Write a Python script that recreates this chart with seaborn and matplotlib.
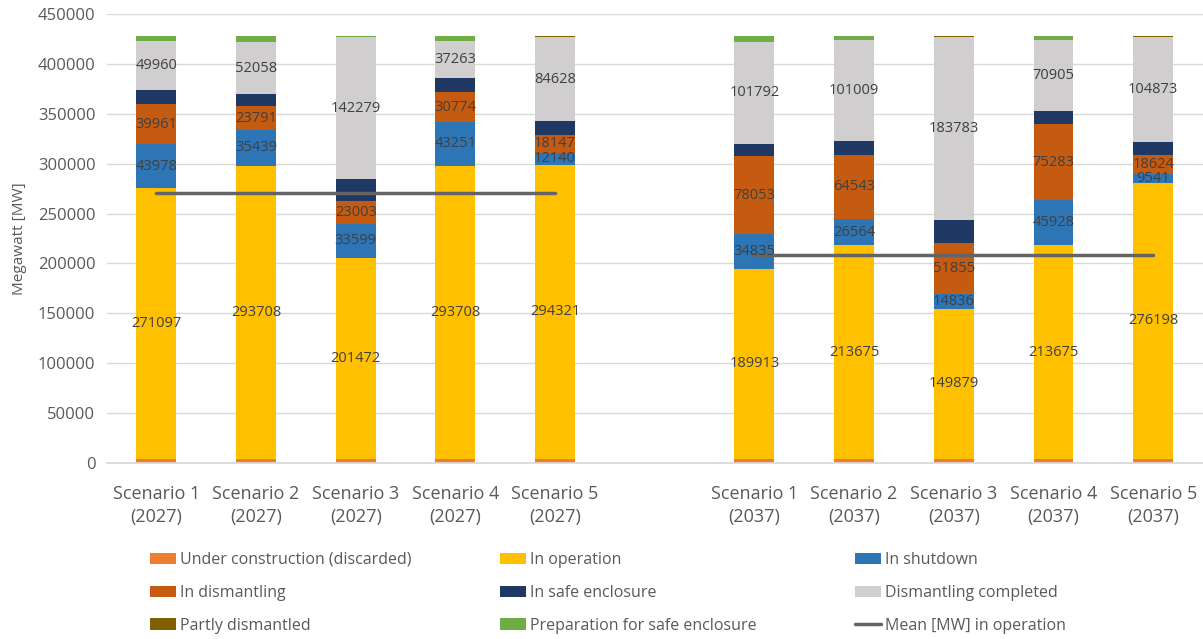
import numpy as np
import pandas as pd
import matplotlib
matplotlib.use("Agg")
import matplotlib.pyplot as plt
from matplotlib.patches import Patch
from matplotlib.lines import Line2D
import seaborn as sns

# ---- data ----
categories = ["Scenario 1\n(2027)", "Scenario 2\n(2027)", "Scenario 3\n(2027)", "Scenario 4\n(2027)", "Scenario 5\n(2027)",
              " ",
              "Scenario 1\n(2037)", "Scenario 2\n(2037)", "Scenario 3\n(2037)", "Scenario 4\n(2037)", "Scenario 5\n(2037)"]
under_construction = [4400, 4400, 4400, 4400, 4400, 0, 4400, 4400, 4400, 4400, 4400]
in_operation = [271097, 293708, 201472, 293708, 294321, 0, 189913, 213675, 149879, 213675, 276198]
in_shutdown = [43978, 35439, 33599, 43251, 12140, 0, 34835, 26564, 14836, 45928, 9541]
in_dismantling = [39961, 23791, 23003, 30774, 18147, 0, 78053, 64543, 51855, 75283, 18624]
safe_enclosure = [14000, 12500, 22000, 13300, 13300, 0, 13000, 14000, 22300, 13400, 13400]
dismantling_completed = [49960, 52058, 142279, 37263, 84628, 0, 101792, 101009, 183783, 70905, 104873]
partly_dismantled = [0, 0, 600, 0, 600, 0, 0, 0, 500, 0, 500]
prep_safe_enclosure = [4100, 5600, 300, 4800, 0, 0, 5500, 3300, 0, 3900, 0]

series_names = ["Under construction (discarded)", "In operation", "In shutdown", "In dismantling",
                "In safe enclosure", "Dismantling completed", "Partly dismantled",
                "Preparation for safe enclosure"]
series_values = [under_construction, in_operation, in_shutdown, in_dismantling,
                 safe_enclosure, dismantling_completed, partly_dismantled, prep_safe_enclosure]
colors = ["#ED7D31", "#FFC000", "#2E75B6", "#C55A11", "#203864", "#D0CECE", "#7F6000", "#70AD47"]
labelled = [False, True, True, True, False, True, False, False]
mean_name = "Mean [MW] in operation"
mean_color = "#646464"

# ---- style ----
sns.set_theme(style="white")
plt.rcParams["font.family"] = ["Open Sans", "DejaVu Sans"]

W, H = 1203, 639
fig = plt.figure(figsize=(W / 100, H / 100), dpi=100)
ax = fig.add_axes([106.5 / W, (H - 463) / H, (1203 - 106.5) / W, (463 - 14) / H])

vals = np.array(series_values, dtype=float)
cum = np.cumsum(vals, axis=0)

# draw cumulative bars from top layer down
for k in range(len(series_names) - 1, -1, -1):
    df = pd.DataFrame({"cat": categories, "v": cum[k]})
    sns.barplot(data=df, x="cat", y="v", order=categories, color=colors[k],
                width=0.4, saturation=1, ax=ax, edgecolor="none")

# data labels
for k in range(len(series_names)):
    if not labelled[k]:
        continue
    for i in range(len(categories)):
        v = vals[k, i]
        if v <= 0:
            continue
        bottom = cum[k, i] - v
        ax.text(i, bottom + v / 2, f"{int(v)}", ha="center", va="center",
                fontsize=10.5, color="#404040")

# mean lines
op = np.array(in_operation, dtype=float)
for grp in [range(0, 5), range(6, 11)]:
    idx = list(grp)
    m = op[idx].mean()
    sns.lineplot(x=[idx[0], idx[-1]], y=[m, m], color=mean_color, lw=2.5, ax=ax)

ax.set_ylim(0, 450000)
ax.set_xlim(-0.5, 10.5)
ax.set_yticks(np.arange(0, 450001, 50000))
ax.yaxis.grid(True, color="#D9D9D9", lw=1)
ax.set_axisbelow(True)
for s in ["left", "right", "top"]:
    ax.spines[s].set_visible(False)
ax.spines["bottom"].set_color("#D9D9D9")
ax.tick_params(axis="y", length=0, labelsize=12, labelcolor="#595959", pad=8)
ax.tick_params(axis="x", length=0, labelsize=13, labelcolor="#595959", pad=16)
for t in ax.get_xticklabels():
    t.set_linespacing(1.35)
ax.set_xlabel("")
ax.set_ylabel("Megawatt [MW]", fontsize=11, color="#595959", labelpad=4)
ax.yaxis.set_label_coords(-79 / (1203 - 106.5), 0.5)

# legend: three single-column legends placed like the reference (row-major layout)
handles = [Patch(facecolor=c, edgecolor="none") for c in colors]
handles.append(Line2D([0], [0], color=mean_color, lw=2.5))
names = series_names + [mean_name]
columns = [[0, 3, 6], [1, 4, 7], [2, 5, 8]]
col_x = [150, 500, 855]
for cx, col in zip(col_x, columns):
    leg = fig.legend([handles[j] for j in col], [names[j] for j in col], ncol=1,
                     loc="upper left", bbox_to_anchor=(cx / W, 1 - 552 / H), frameon=False,
                     fontsize=11.5, labelcolor="#595959", handlelength=1.6,
                     handletextpad=0.3, labelspacing=1.05, borderaxespad=0.0, borderpad=0.0)

fig.savefig("out.png", dpi=100)
